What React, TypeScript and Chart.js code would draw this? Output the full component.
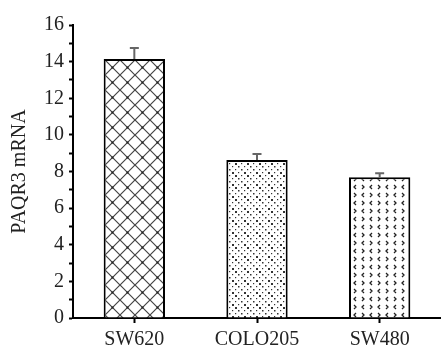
import React, { useEffect, useRef } from "react";
import { Chart, registerables } from "chart.js";

Chart.register(...registerables);

const categories = ["SW620", "COLO205", "SW480"];
const values = [14.15, 8.63, 7.68];
const errors = [0.6, 0.33, 0.22];
const yTickLabels = [0, 2, 4, 6, 8, 10, 12, 14, 16];

function makeTile(size: number, draw: (c: CanvasRenderingContext2D) => void) {
  const t = document.createElement("canvas");
  t.width = size;
  t.height = size;
  const c = t.getContext("2d")!;
  c.fillStyle = "#ffffff";
  c.fillRect(0, 0, size, size);
  draw(c);
  return t;
}

function lattice() {
  return makeTile(15, (c) => {
    c.strokeStyle = "#444";
    c.lineWidth = 1.2;
    c.beginPath();
    c.moveTo(-1, -1);
    c.lineTo(16, 16);
    c.moveTo(16, -1);
    c.lineTo(-1, 16);
    c.stroke();
    c.fillStyle = "#222";
    c.fillRect(6.5, 6.5, 2, 2);
  });
}

function dots() {
  return makeTile(12, (c) => {
    c.fillStyle = "#333";
    c.fillRect(1, 1, 1.5, 1.5);
    c.fillRect(7, 1, 1.2, 1.2);
    c.fillRect(4, 4, 2, 2);
    c.fillRect(10, 4, 1.2, 1.2);
    c.fillRect(1, 7, 1.2, 1.2);
    c.fillRect(7, 7, 2, 2);
    c.fillRect(4, 10, 1.2, 1.2);
    c.fillRect(10, 10, 1.5, 1.5);
  });
}

function chevrons() {
  return makeTile(16, (c) => {
    c.strokeStyle = "#222";
    c.lineWidth = 1.3;
    c.beginPath();
    c.moveTo(2, 1);
    c.lineTo(4, 3);
    c.lineTo(2, 5);
    c.moveTo(10, 9);
    c.lineTo(12, 11);
    c.lineTo(10, 13);
    c.moveTo(12, 1);
    c.lineTo(10, 3);
    c.lineTo(12, 5);
    c.moveTo(4, 9);
    c.lineTo(2, 11);
    c.lineTo(4, 13);
    c.stroke();
  });
}

const errorBarPlugin = {
  id: "errorBars",
  afterDatasetsDraw(chart: any) {
    const ctx = chart.ctx;
    const meta = chart.getDatasetMeta(0);
    const yScale = chart.scales.y;
    ctx.save();
    ctx.strokeStyle = "#666";
    ctx.lineWidth = 2;
    meta.data.forEach((bar: any, i: number) => {
      const x = bar.x;
      const yTop = yScale.getPixelForValue(values[i]);
      const yErr = yScale.getPixelForValue(values[i] + errors[i]);
      ctx.beginPath();
      ctx.moveTo(x, yTop);
      ctx.lineTo(x, yErr);
      ctx.moveTo(x - 4.5, yErr);
      ctx.lineTo(x + 4.5, yErr);
      ctx.stroke();
    });
    ctx.restore();
  },
};

export default function App() {
  const ref = useRef<HTMLCanvasElement>(null);
  useEffect(() => {
    document.body.style.margin = "0";
    const canvas = ref.current!;
    const ctx = canvas.getContext("2d")!;
    const patterns = [lattice(), dots(), chevrons()].map(
      (t) => ctx.createPattern(t, "repeat")!
    );
    const family = "'Liberation Serif', 'Times New Roman', serif";
    const font = { family, size: 20 };
    const chart = new Chart(canvas, {
      type: "bar",
      data: {
        labels: categories,
        datasets: [
          {
            data: values,
            backgroundColor: patterns,
            borderColor: "#000",
            borderWidth: 2,
            borderSkipped: "bottom",
            barPercentage: 0.5,
            categoryPercentage: 1,
          },
        ],
      },
      options: {
        animation: false,
        responsive: false,
        maintainAspectRatio: false,
        layout: { padding: { top: 25, left: 0, right: 0, bottom: 0 } },
        plugins: { legend: { display: false }, tooltip: { enabled: false } },
        scales: {
          x: {
            offset: true,
            grid: {
              display: true,
              drawOnChartArea: false,
              offset: false,
              tickLength: 5,
              tickWidth: 2,
              tickColor: "#000",
            },
            border: { display: true, color: "#000", width: 2 },
            ticks: { font, color: "#222", padding: 5 },
            afterFit(scale: any) {
              scale.height = 29;
            },
          },
          y: {
            min: 0,
            max: 16,
            grid: {
              display: true,
              drawOnChartArea: false,
              tickLength: 4,
              tickWidth: 2,
              tickColor: "#000",
            },
            border: { display: true, color: "#000", width: 2 },
            ticks: {
              stepSize: 1,
              autoSkip: false,
              font,
              color: "#222",
              padding: 5,
              callback: (v: any) => (yTickLabels.includes(Number(v)) ? String(v) : ""),
            },
            title: {
              display: true,
              text: "PAQR3 mRNA",
              font: { family, size: 20 },
              color: "#222",
              padding: { top: 8, bottom: 0 },
            },
            afterFit(scale: any) {
              scale.width = 73;
            },
          },
        },
      },
      plugins: [errorBarPlugin],
    });
    return () => chart.destroy();
  }, []);
  return (
    <div style={{ width: 441, height: 347 }}>
      <canvas ref={ref} width={441} height={347} style={{ display: "block" }} />
    </div>
  );
}
